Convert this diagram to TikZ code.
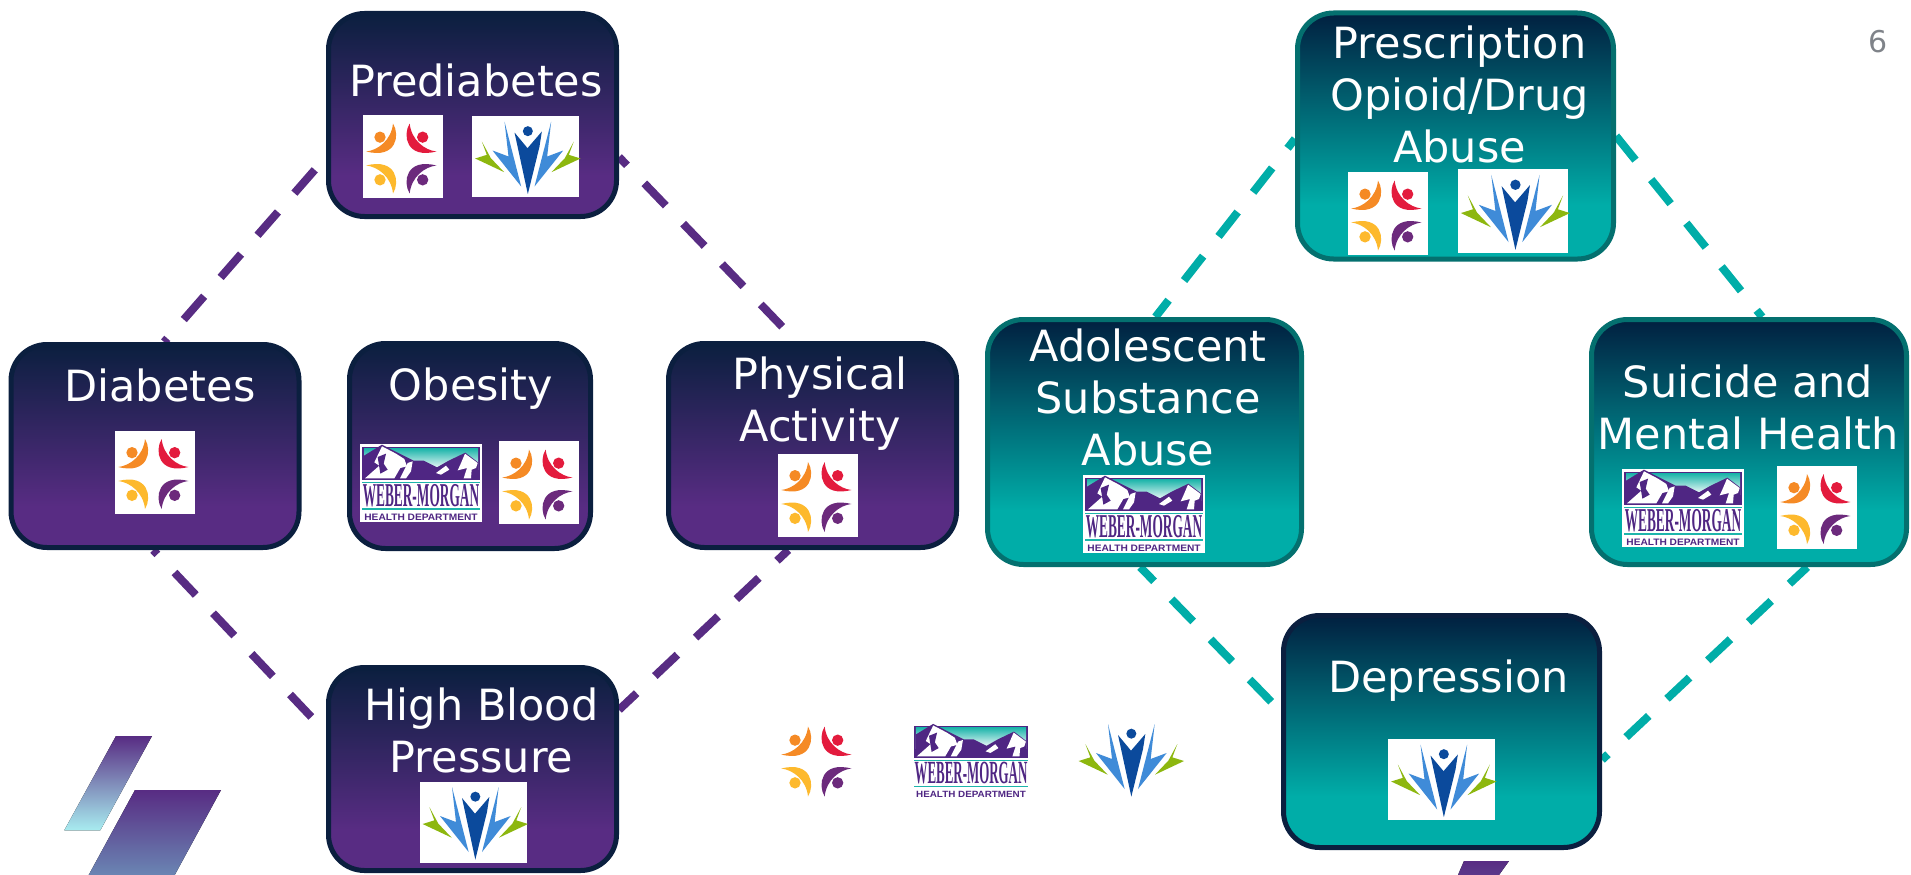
\documentclass[tikz,border=0pt]{standalone}
\usepackage{fontspec}
\usepackage{tikz}
\usetikzlibrary{backgrounds}
\setmainfont{DejaVu Sans}
\newfontfamily\serifmark{Liberation Serif}
\newfontfamily\sansmark{Liberation Sans}
\definecolor{navy}{HTML}{0B1F3F}
\definecolor{grape}{HTML}{582C83}
\definecolor{tealdark}{HTML}{012040}
\definecolor{teal}{HTML}{00ADA8}
\definecolor{tealedge}{HTML}{04706F}
\definecolor{pagegray}{HTML}{7F8389}
\definecolor{slate}{HTML}{6A85B3}
\definecolor{ice}{HTML}{A8ECF0}
\definecolor{logoorange}{HTML}{F58A25}
\definecolor{logored}{HTML}{E31B3D}
\definecolor{logoyellow}{HTML}{FDB92D}
\definecolor{logopurple}{HTML}{6C2A7C}
\definecolor{logonavy}{HTML}{0B4A9C}
\definecolor{logoblue}{HTML}{3F8BD8}
\definecolor{logogreen}{HTML}{8DB70F}
\definecolor{marksky}{HTML}{1EB5AB}
\definecolor{markpurple}{HTML}{4F2683}
\pgfdeclareverticalshading{grapefade}{100bp}{color(0bp)=(grape); color(35bp)=(grape); color(75bp)=(navy); color(100bp)=(navy)}
\pgfdeclareverticalshading{tealfade}{100bp}{color(0bp)=(teal); color(36bp)=(teal); color(75bp)=(tealdark); color(100bp)=(tealdark)}
\tikzset{
    topicbox/.style={rectangle, outer sep=2.5pt, rounded corners=36pt, line width=5pt},
    grapebox/.style={topicbox, draw=navy, shade, shading=grapefade},
    tealbox/.style={topicbox, draw=tealedge, shade, shading=tealfade},
    deepbox/.style={topicbox, draw=navy, shade, shading=tealfade},
    topic/.style={text=white, align=center, inner sep=0pt, font=\fontsize{43}{52}\selectfont},
    grapelink/.style={draw=grape, line width=8pt, dash pattern=on 31pt off 25pt},
    teallink/.style={draw=teal, line width=8pt, dash pattern=on 31pt off 25pt},
    peoplelogo/.pic={
        \fill[white] (-120,-124.5) rectangle (120,124.5);
        \begin{scope}[shift={(-5,6)}]
            \foreach \sx/\sy/\tone in {1/1/logoorange,-1/1/logored,1/-1/logoyellow,-1/-1/logopurple}{
                \begin{scope}[xscale=\sx,yscale=\sy]
                    \fill[\tone] (-64,-64) circle (17);
                    \fill[\tone] (-25,-105) .. controls (-3,-70) and (-15,2) .. (-105,-21)
                        .. controls (-70,-25) and (-30,-55) .. (-25,-105) -- cycle;
                \end{scope}
            }
        \end{scope}
    },
    peaklogo/.pic={
        \fill[white] (-160.5,-121.5) rectangle (160.5,121.5);
        \fill[logonavy] (7,-76) circle (15);
        \fill[logonavy] (-33,-72) -- (6,-25) -- (49,-75) -- (42,-30) -- (7,113) -- (-26,-40) -- cycle;
        \fill[logoblue] (-63,-105) -- (-13,90) -- (-99,-18) -- (-51,0) -- cycle;
        \fill[logoblue] (77,-105) -- (27,90) -- (113,-18) -- (65,0) -- cycle;
        \fill[logogreen] (-131,-45) -- (-104,5) -- (-64,47) -- (-151,6) -- (-116,-5) -- cycle;
        \fill[logogreen] (145,-45) -- (118,5) -- (78,47) -- (165,6) -- (130,-5) -- cycle;
    },
    mountainlogo/.pic={
        \fill[white] (-183,-117) rectangle (183,117);
        \fill[markpurple] (-176,-108) rectangle (176,-9);
        \shade[top color=marksky, bottom color=white] (-171,-103) rectangle (171,-40);
        \fill[markpurple] (-171,-82) -- (-117,-115) -- (-72,-92) -- (-22,-67) -- (8,-67) -- (48,-47)
            -- (83,-67) -- (133,-91) -- (171,-62) -- (171,-12) -- (-171,-12) -- cycle;
        \fill[white] (-168,-14) -- (-125,-52) -- (-140,-62) -- (-117,-110) -- (-75,-88) -- (-50,-72)
            -- (-42,-50) -- (-62,-45) -- (-80,-14) -- cycle;
        \fill[markpurple] (-130,-78) -- (-105,-88) -- (-112,-58) -- (-100,-40) -- (-122,-28) -- cycle;
        \fill[white] (-63,-14) -- (-40,-60) -- (-25,-65) -- (-30,-35) -- (-45,-14) -- cycle;
        \fill[white] (45,-30) -- (75,-52) -- (85,-40) -- (60,-25) -- cycle;
        \fill[white] (132,-88) -- (170,-60) -- (165,-45) -- (152,-40) -- (150,-14) -- (128,-14)
            -- (138,-45) -- (110,-38) -- (118,-55) -- cycle;
        \fill[marksky] (-176,-4) rectangle (176,1);
        \fill[marksky] (-176,76) rectangle (176,81);
        \node[text=markpurple, inner sep=0pt, transform shape, xscale=1, yscale=2.5, font=\serifmark\bfseries\fontsize{40}{40}\selectfont] (wm) at (0,38) {WEBER-MORGAN};
        \node[text=markpurple, inner sep=0pt, transform shape, xscale=1.09, font=\sansmark\bfseries\fontsize{28}{28}\selectfont] (hd) at (0,103) {HEALTH DEPARTMENT};
    }
}
\begin{document}
\begin{tikzpicture}[x=1pt,y=-1pt]
    \useasboundingbox (0,0) rectangle (1911,875);

    \node[grapebox, minimum width=288pt, minimum height=203pt] (pre) at (472.5,115) {};
    \node[grapebox, minimum width=288pt, minimum height=203pt] (dia) at (155,446) {};
    \node[grapebox, minimum width=241pt, minimum height=205pt] (obe) at (470,446) {};
    \node[grapebox, minimum width=288pt, minimum height=204pt] (phy) at (812.5,445.5) {};
    \node[grapebox, minimum width=288pt, minimum height=203pt] (hbp) at (472.5,769) {};
    \node[tealbox, minimum width=316pt, minimum height=246pt] (pdr) at (1455.5,136) {};
    \node[tealbox, minimum width=314pt, minimum height=245pt] (ado) at (1144.5,442) {};
    \node[tealbox, minimum width=315pt, minimum height=245pt] (sui) at (1749,442) {};
    \node[deepbox, minimum width=316pt, minimum height=232pt] (dep) at (1441.5,731.5) {};

    \begin{scope}[on background layer]
        \draw[grapelink, dash phase=39pt] (pre.196.4) -- (dia.85.4);
        \draw[grapelink, dash phase=19.5pt] (pre.-16.2) -- (phy.99.7);
        \draw[grapelink, dash phase=25pt] (dia.-91.7) -- (hbp.166.2);
        \draw[grapelink, dash phase=15.4pt] (phy.-103.7) -- (hbp.22.4);
        \draw[teallink, dash phase=19pt] (pdr.181.1) -- (ado.85.7);
        \draw[teallink] (pdr.-0.4) -- (sui.84.5);
        \draw[teallink, dash phase=11pt] (ado.-92) -- (dep.173.6);
        \draw[teallink, dash phase=6.5pt] (sui.-65.2) -- (dep.-10.1);
    \end{scope}

    \node[topic] (pre_t) at (476,80) {Prediabetes};
    \node[topic] (dia_t) at (160,385) {Diabetes};
    \node[topic] (obe_t) at (471,389) {Obesity};
    \node[topic] (phy_t) at (820,404) {Physical\\Activity};
    \node[topic] (hbp_t) at (481.5,730) {High Blood\\Pressure};
    \node[topic] (pdr_t) at (1459.5,94) {Prescription\\Opioid/Drug\\Abuse};
    \node[topic] (ado_t) at (1148,397) {Adolescent\\Substance\\Abuse};
    \node[topic] (sui_t) at (1748,407) {Suicide and\\Mental Health};
    \node[topic] (dep_t) at (1448.5,681) {Depression};
    \node[text=pagegray, inner sep=0pt, font=\fontsize{30}{36}\selectfont] (page) at (1878,42) {6};

    \pic[scale=1/3] (pre_a) at (403,156.5) {peoplelogo};
    \pic[scale=1/3] (pre_b) at (525.5,156.5) {peaklogo};
    \pic[scale=1/3] (dia_a) at (155,472) {peoplelogo};
    \pic[scale=1/3] (obe_a) at (539,482.5) {peoplelogo};
    \pic[scale=1/3] (obe_c) at (421,483) {mountainlogo};
    \pic[scale=1/3] (phy_a) at (818,495) {peoplelogo};
    \pic[scale=1/3] (hbp_b) at (473,822) {peaklogo};
    \pic[scale=1/3] (pdr_a) at (1388,213.5) {peoplelogo};
    \pic[scale=.345] (pdr_b) at (1513,211) {peaklogo};
    \pic[scale=1/3] (ado_c) at (1144,514) {mountainlogo};
    \pic[scale=1/3] (sui_c) at (1683,508) {mountainlogo};
    \pic[scale=1/3] (sui_a) at (1817,507) {peoplelogo};
    \pic[scale=1/3] (dep_b) at (1441.5,779.5) {peaklogo};
    \pic[scale=1/3] (key_a) at (818,759.5) {peoplelogo};
    \pic[scale=.323] (key_c) at (971,761) {mountainlogo};
    \pic[scale=1/3] (key_b) at (1129,759) {peaklogo};

    \fill[top color=grape, bottom color=ice] (116,736) -- (152,736) -- (100.3,830.3) -- (64.3,830.3) -- cycle;
    \fill[top color=grape, bottom color=slate] (135,790) -- (221,790) -- (174.7,875) -- (88.7,875) -- cycle;
    \fill[top color=grape, bottom color=grape!85!slate] (1464,861) -- (1509,861) -- (1499,875) -- (1458,875) -- cycle;
\end{tikzpicture}
\end{document}
